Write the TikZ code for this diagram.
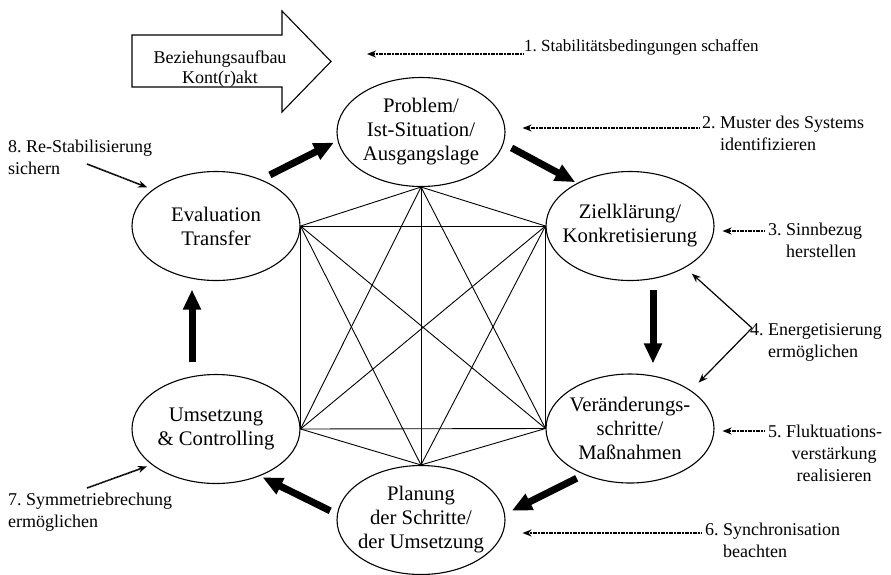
\documentclass[tikz,border=0pt]{standalone}
\usepackage{fontspec}
\setmainfont{Liberation Serif}
\usetikzlibrary{shapes.geometric,arrows.meta,calc}
\frenchspacing

\begin{document}
\begin{tikzpicture}[x=1pt,y=-1pt,
  phase/.style={draw, ellipse, line width=1.1pt, minimum width=168pt,
                minimum height=109pt, inner sep=0pt},
  phasetext/.style={font=\fontsize{20.7}{24}\selectfont, align=center, inner sep=0pt},
  note/.style={font=\fontsize{18}{22}\selectfont, inner sep=0pt, anchor=base west},
  flow/.style={line width=7pt, -{Triangle[length=20pt,width=17pt]}},
  hint/.style={line width=1.6pt, dash pattern=on 1.2pt off 0.4pt,
               -{Stealth[length=9pt,width=7pt]}},
  hintsolid/.style={line width=1.2pt, -{Stealth[length=9pt,width=7pt]}},
  mesh/.style={line width=0.9pt}]

\fill[white] (0,0) rectangle (891,574);
\path[use as bounding box] (0,0) rectangle (891,574);

% entry arrow
\draw[line width=1.1pt] (132,35) -- (282,35) -- (282,11) -- (331,61.5)
      -- (282,112) -- (282,87) -- (132,87) -- cycle;
\coordinate (beztip) at (331,61.5);
\node[font=\fontsize{18}{20}\selectfont, inner sep=0pt, anchor=base] (bez) at (220,63)
  {\begin{tabular}[t]{@{}c@{}}Beziehungsaufbau\\Kont(r)akt\end{tabular}};

% phases of the cycle
\node[phase, label={[phasetext]center:{Problem/\\Ist-Situation/\\Ausgangslage}}] (prob) at (421,132) {};
\node[phase, label={[phasetext]center:{Zielklärung/\\Konkretisierung}}] (ziel) at (630,226) {};
\node[phase, label={[phasetext]center:{Veränderungs-\\schritte/\\Maßnahmen}}] (ver) at (630,428.5) {};
\node[phase, label={[phasetext]center:{Planung\\der Schritte/\\der Umsetzung}}] (plan) at (421,520) {};
\node[phase, label={[phasetext]center:{Umsetzung\\\& Controlling}}] (ums) at (216,429) {};
\node[phase, label={[phasetext]center:{Evaluation\\Transfer}}] (eval) at (216,226) {};

% every phase linked with every other
\draw[mesh] (prob.south) -- (ziel.west);
\draw[mesh] (prob.south) -- (ver.west);
\draw[mesh] (prob.south) -- (plan.north);
\draw[mesh] (prob.south) -- (ums.east);
\draw[mesh] (prob.south) -- (eval.east);
\draw[mesh] (ziel.west) -- (ver.west);
\draw[mesh] (ziel.west) -- (plan.north);
\draw[mesh] (ziel.west) -- (ums.east);
\draw[mesh] (ziel.west) -- (eval.east);
\draw[mesh] (ver.west) -- (plan.north);
\draw[mesh] (ver.west) -- (ums.east);
\draw[mesh] (ver.west) -- (eval.east);
\draw[mesh] (plan.north) -- (ums.east);
\draw[mesh] (plan.north) -- (eval.east);
\draw[mesh] (ums.east) -- (eval.east);

% cycle arrows
\draw[flow, shorten <=10pt, shorten >=4pt] (eval.46) -- (prob.186);
\draw[flow, shorten <=9pt, shorten >=2pt] (prob.-8) -- (ziel.141);
\draw[flow, shorten <=8.5pt, shorten >=10pt] ([xshift=23pt]ziel.south) -- ([xshift=23pt]ver.north);
\draw[flow, shorten <=8pt, shorten >=7.5pt] (ver.225) -- (plan.4);
\draw[flow, shorten <=7.5pt, shorten >=3pt] (plan.176) -- (ums.-47);
\draw[flow, shorten <=11.5pt, shorten >=8.5pt] ([xshift=-24pt]ums.north) -- ([xshift=-24pt]eval.south);

% side notes
\node[note, font=\fontsize{17}{21}\selectfont] (lab1) at (524,51) {1. Stabilitätsbedingungen schaffen};
\node[note] (lab2) at (702,128) {2.~\begin{tabular}[t]{@{}l@{}}Muster des Systems\\identifizieren\end{tabular}};
\node[note] (lab3) at (768,235) {3.~\begin{tabular}[t]{@{}l@{}}Sinnbezug\\herstellen\end{tabular}};
\node[note] (lab4) at (750,335) {4.~\begin{tabular}[t]{@{}l@{}}Energetisierung\\ermöglichen\end{tabular}};
\node[note] (lab5) at (768,437) {5.~\begin{tabular}[t]{@{}c@{}}Fluktuations-\\verstärkung\\realisieren\end{tabular}};
\node[note] (lab6) at (705,535) {6.~\begin{tabular}[t]{@{}l@{}}Synchronisation\\beachten\end{tabular}};
\node[note] (lab7) at (8,505) {\begin{tabular}[t]{@{}l@{}}7. Symmetriebrechung\\ermöglichen\end{tabular}};
\node[note] (lab8) at (8,152) {\begin{tabular}[t]{@{}l@{}}8. Re-Stabilisierung\\sichern\end{tabular}};

\coordinate (s1) at ([yshift=-3pt]lab1.base west);
\coordinate (s2) at ([xshift=-2pt]lab2.base west);
\coordinate (s3) at ([xshift=-3pt,yshift=4pt]lab3.base west);
\coordinate (s4) at ($(lab4.base west)+(2,-7)$);
\coordinate (s5) at ([xshift=-3pt,yshift=6pt]lab5.base west);
\coordinate (s6) at ([xshift=-3pt,yshift=2pt]lab6.base west);
\coordinate (s7) at ($(lab7.base west)+(79,-17)$);
\coordinate (s8) at ($(lab8.base west)+(79,12)$);

\draw[hint, shorten >=36pt] (s1) -- (s1 -| beztip);
\draw[hint, shorten >=17pt] (s2) -- (s2 -| prob.east);
\draw[hint, shorten >=8pt] (s3) -- (s3 -| ziel.east);
\draw[hintsolid, shorten >=9pt] (s4) -- (ziel.-37);
\draw[hintsolid, shorten >=11pt] (s4) -- (ver.32);
\draw[hint, shorten >=8pt] (s5) -- (s5 -| ver.east);
\draw[hint, shorten >=17pt] (s6) -- (s6 -| plan.east);
\draw[hint, shorten >=5pt] (s7) -- (ums.209);
\draw[hint, shorten >=6pt] (s8) -- (eval.150);

\end{tikzpicture}
\end{document}
